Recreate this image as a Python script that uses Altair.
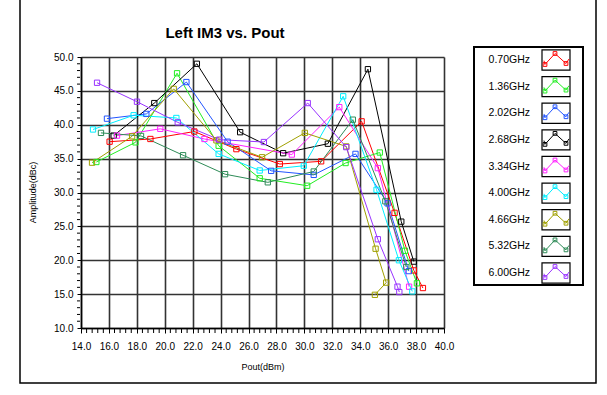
import altair as alt
import pandas as pd

# ---- data ----
series_names = ["0.70GHz", "1.36GHz", "2.02GHz", "2.68GHz", "3.34GHz",
                "4.00GHz", "4.66GHz", "5.32GHz", "6.00GHz"]
series_colors = ["#ff0000", "#22ee22", "#2255ff", "#000000", "#ff22ff",
                 "#00eeff", "#a0a000", "#2e8b57", "#9933ff"]

f070_x = [16.05, 18.97, 22.12, 25.13, 28.24, 31.2, 34.1, 36.46, 37.84, 38.49]
f070_y = [37.5, 37.9, 39.0, 36.4, 34.2, 34.6, 40.5, 27.0, 18.5, 15.9]
f136_x = [15.1, 17.9, 20.88, 23.86, 26.8, 30.2, 32.95, 35.4, 37.2, 38.06]
f136_y = [34.5, 37.4, 47.6, 36.9, 32.1, 31.0, 34.35, 35.9, 21.4, 16.6]
f202_x = [15.86, 18.68, 21.55, 24.5, 27.62, 30.67, 33.66, 35.96, 37.48]
f202_y = [40.9, 41.6, 46.3, 37.5, 33.2, 32.6, 35.7, 28.4, 18.4]
f268_x = [16.34, 19.25, 22.3, 25.4, 28.48, 31.68, 34.55, 36.94, 37.84]
f268_y = [38.4, 43.2, 49.0, 38.9, 35.8, 37.2, 48.2, 25.7, 19.8]
f334_x = [16.58, 19.68, 22.84, 29.1, 32.5, 35.26, 37.5]
f334_y = [38.4, 39.4, 37.9, 35.6, 42.6, 33.6, 16.1]
f400_x = [14.86, 17.77, 20.83, 23.86, 26.8, 29.96, 32.78, 35.17, 36.77, 37.73]
f400_y = [39.3, 41.4, 41.0, 35.7, 33.25, 33.95, 44.2, 30.4, 20.0, 15.4]
f466_x = [14.79, 17.66, 20.64, 23.7, 26.97, 30.03, 33.0, 35.1, 35.86, 35.05]
f466_y = [34.4, 38.3, 45.3, 37.7, 35.2, 38.8, 36.8, 21.7, 16.7, 14.9]
f532_x = [15.43, 18.3, 21.31, 24.32, 27.38, 30.67, 33.47, 35.8, 37.3]
f532_y = [38.8, 38.35, 35.5, 32.7, 31.5, 33.1, 40.75, 28.7, 19.0]
f600_x = [15.15, 18.01, 20.93, 23.9, 27.1, 30.24, 33.0, 35.26, 36.67, 36.8]
f600_y = [46.2, 43.4, 40.35, 37.8, 37.45, 43.2, 36.7, 23.1, 16.1, 15.3]

all_x = [f070_x, f136_x, f202_x, f268_x, f334_x, f400_x, f466_x, f532_x, f600_x]
all_y = [f070_y, f136_y, f202_y, f268_y, f334_y, f400_y, f466_y, f532_y, f600_y]

x_major = [14, 16, 18, 20, 22, 24, 26, 28, 30, 32, 34, 36, 38, 40]
y_major = [10, 15, 20, 25, 30, 35, 40, 45, 50]
x_minor = [round(14 + 0.4 * i, 1) for i in range(66) if i % 5 != 0]
y_minor = [v for v in range(10, 51) if v % 5 != 0]

rows = []
for name, xs, ys in zip(series_names, all_x, all_y):
    for i, (xv, yv) in enumerate(zip(xs, ys)):
        rows.append({"series": name, "pout": xv, "amp": yv, "idx": i})
df = pd.DataFrame(rows)
leg_df = pd.DataFrame({"series": series_names})
one = pd.DataFrame({"a": [0]})

W, H = 363, 271
FONT = "Liberation Sans"
color = alt.Color("series:N", scale=alt.Scale(domain=series_names, range=series_colors), legend=None)
xs_ = alt.Scale(domain=[14, 40], nice=False, zero=False)
ys_ = alt.Scale(domain=[10, 50], nice=False, zero=False)

x_enc = alt.X("pout:Q", scale=xs_,
              axis=alt.Axis(values=x_major, tickCount=100, format=".1f", title="Pout(dBm)",
                            labelFontSize=10, labelPadding=8, tickSize=5,
                            labelOverlap=False, labelFlush=False,
                            titleFontSize=9, titleFontWeight="normal", titleY=38,
                            titleBaseline="middle"))
y_enc = alt.Y("amp:Q", scale=ys_,
              axis=alt.Axis(values=y_major, tickCount=100, format=".1f", title="Amplitude(dBc)",
                            labelFontSize=10, labelPadding=4, tickSize=4,
                            labelOverlap=False, labelFlush=False,
                            titleFontSize=9, titleFontWeight="normal", titleX=-49, titleY=135,
                            titleAngle=-90, titleAlign="center", titleBaseline="middle"))

lines = alt.Chart(df).mark_line(strokeWidth=1).encode(x=x_enc, y=y_enc, color=color, order="idx:Q")
pts = alt.Chart(df).mark_point(shape="square", size=28, filled=False, strokeWidth=1, opacity=1).encode(
    x="pout:Q", y="amp:Q", color=color)

xmin_df = pd.DataFrame({"v": x_minor})
ymin_df = pd.DataFrame({"v": y_minor})
x_minor_ticks = alt.Chart(xmin_df).mark_rule(color="black", strokeWidth=1).encode(
    x=alt.X("v:Q", scale=xs_), y=alt.value(H + 1), y2=alt.value(H + 5))
y_minor_ticks = alt.Chart(ymin_df).mark_rule(color="black", strokeWidth=1).encode(
    y=alt.Y("v:Q", scale=ys_), x=alt.value(-4), x2=alt.value(-1))
main = alt.layer(lines, pts, x_minor_ticks, y_minor_ticks)

ly = alt.Y("series:N", scale=alt.Scale(type="point", domain=series_names, range=[3, 216], padding=0), axis=None)
leg_text = alt.Chart(leg_df).mark_text(align="right", baseline="middle", fontSize=10.5, font=FONT, color="black").encode(
    x=alt.value(449), y=ly, text="series:N")
box_path = "M-1,-0.72H1V0.72H-1Z"
leg_box = alt.Chart(leg_df).mark_point(shape=box_path, size=784, filled=False, strokeWidth=1.2, color="black", opacity=1).encode(
    x=alt.value(475), y=ly)
zig_path = "M-0.86,0.05L-0.79,0.32L-0.07,-0.46L0.71,0.25L0.93,-0.07"
leg_zig = alt.Chart(leg_df).mark_point(shape=zig_path, size=784, filled=False, strokeWidth=1, opacity=1).encode(
    x=alt.value(475), y=ly, color=color)
sq = []
for dx, dy in [(-11, 4.5), (-1, -6.5), (10, 3.5)]:
    sq.append(alt.Chart(leg_df).mark_point(shape="square", size=14, filled=False, strokeWidth=1, opacity=1,
                                           xOffset=dx, yOffset=dy).encode(x=alt.value(475), y=ly, color=color))
legend = alt.layer(leg_box, leg_zig, *sq, leg_text)

leg_frame = alt.Chart(one).mark_rect(fill=None, stroke="black", strokeWidth=2).encode(
    x=alt.value(393), x2=alt.value(502), y=alt.value(-10), y2=alt.value(228))
outer = alt.Chart(one).mark_rect(fill=None, stroke="black", strokeWidth=1.5).encode(
    x=alt.value(-61), x2=alt.value(515), y=alt.value(-80), y2=alt.value(326))
title = alt.Chart(one).mark_text(text="Left IM3 vs. Pout", fontSize=15, fontWeight="bold", font=FONT,
                                 align="center", baseline="middle", color="black").encode(
    x=alt.value(144), y=alt.value(-24))

chart = alt.layer(outer, main, legend, leg_frame, title).resolve_scale(y="independent").properties(
    width=W, height=H,
    autosize=alt.AutoSizeParams(type="none"),
    padding={"left": 81, "top": 57, "right": 163, "bottom": 67},
    background="white",
).configure_view(stroke=None).configure_axis(
    domainColor="black", domainWidth=1.5, gridColor="#333", gridWidth=1.6, gridOpacity=1,
    tickColor="black", labelFont=FONT, titleFont=FONT, labelColor="black", titleColor="black",
)

chart.save("out.html", embed_options={"renderer": "svg", "actions": False})
